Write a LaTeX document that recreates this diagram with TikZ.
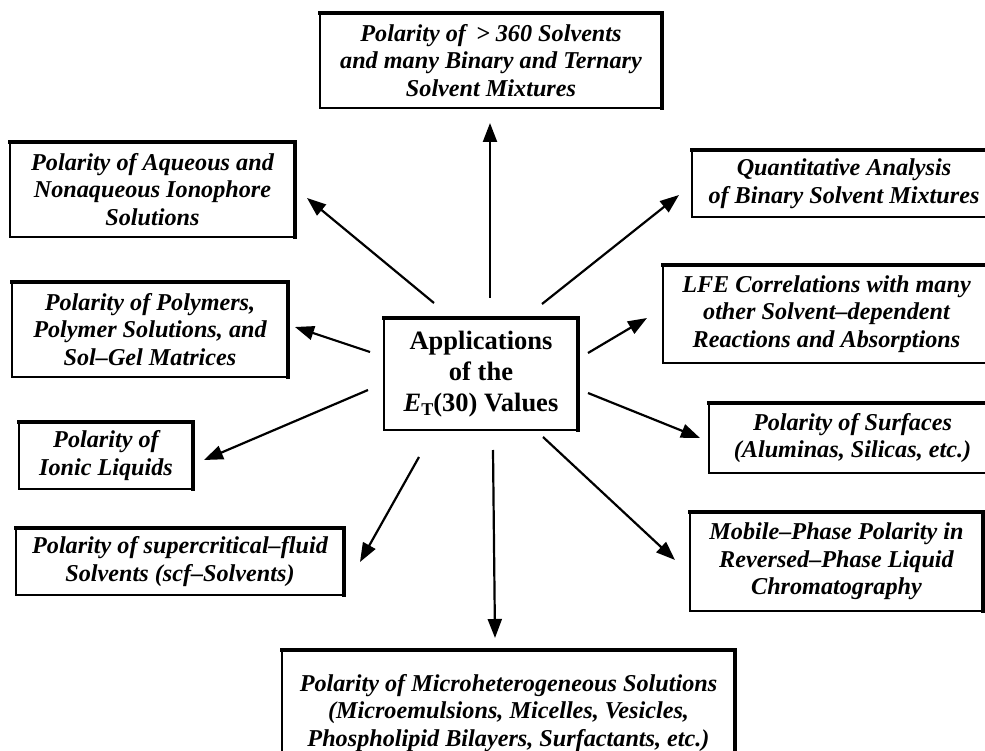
\documentclass[tikz,border=0pt]{standalone}
\usepackage{fontspec}
\setmainfont{Liberation Serif}
\usetikzlibrary{arrows.meta}
\newcommand\boxfont{\fontsize{24.2}{27.5}\selectfont\bfseries\itshape}
\newcommand\ctrfont{\fontsize{26.5}{31}\selectfont\bfseries}
\begin{document}
\begin{tikzpicture}[x=1pt,y=-1pt,
  box/.style={draw, line width=1.5pt, align=center, inner sep=0pt, outer sep=0pt, font=\boxfont},
  thickedge/.style={line width=3.3pt, line cap=rect},
  arr/.style={line width=2.2pt, -{Triangle[length=19pt,width=14pt]}}]
\clip (0,0) rectangle (985,751);
\fill[white] (0,0) rectangle (985,751);
% boxes
\node[box, minimum width=342, minimum height=95] (top) at (491,60.5)
  {Polarity of \,> 360 Solvents\\and many Binary and Ternary\\Solvent Mixtures};
\node[box, minimum width=285, minimum height=95] (aq) at (152.5,189.5)
  {Polarity of Aqueous and\\Nonaqueous Ionophore\\Solutions};
\node[box, minimum width=304, minimum height=67] (quant) at (844,183.5)
  {Quantitative Analysis\\of Binary Solvent Mixtures};
\node[box, minimum width=276, minimum height=95] (poly) at (150,329.5)
  {Polarity of Polymers,\\Polymer Solutions, and\\Sol–Gel Matrices};
\node[box, minimum width=327, minimum height=98] (lfe) at (826.5,314)
  {LFE Correlations with many\\other Solvent–dependent\\Reactions and Absorptions};
\node[box, minimum width=174, minimum height=67] (ionic) at (106,455.5)
  {Polarity of\\Ionic Liquids};
\node[box, minimum width=287, minimum height=70] (surf) at (852.5,438)
  {Polarity of Surfaces\\(Aluminas, Silicas, etc.)};
\node[box, minimum width=328, minimum height=67] (scf) at (180,561.5)
  {Polarity of supercritical–fluid\\Solvents (scf–Solvents)};
\node[box, minimum width=293, minimum height=99] (mob) at (836.5,561.5)
  {Mobile–Phase Polarity in\\Reversed–Phase Liquid\\Chromatography};
\node[box, minimum width=453, minimum height=126] (micro) at (508.5,713)
  {Polarity of Microheterogeneous Solutions\\(Microemulsions, Micelles, Vesicles,\\Phospholipid Bilayers, Surfactants, etc.)};
\node[box, line width=2.4pt, font=\ctrfont, minimum width=194, minimum height=112] (ctr) at (481,374)
  {Applications\\of the\\\textit{E}\raisebox{-0.3ex}{\fontsize{18}{18}\selectfont T}(30) Values};
\foreach \n in {top,aq,quant,poly,lfe,ionic,surf,scf,mob,micro}
  \draw[thickedge] (\n.north west) -- (\n.north east) -- (\n.south east);
\draw[line width=4.5pt, line cap=rect] (ctr.north west) -- (ctr.north east) -- (ctr.south east);
% arrow end points
\coordinate (s1) at (490,298);  \coordinate (t1) at (490,123);
\coordinate (s2) at (434,303);  \coordinate (t2) at (307,198);
\coordinate (s3) at (542,304);  \coordinate (t3) at (679,195);
\coordinate (s4) at (370,352);  \coordinate (t4) at (295,327);
\coordinate (s5) at (368,390);  \coordinate (t5) at (204,460);
\coordinate (s6) at (419,457);  \coordinate (t6) at (360,562);
\coordinate (s7) at (493,450);  \coordinate (t7) at (495,638);
\coordinate (s8) at (543,437);  \coordinate (t8) at (675,560);
\coordinate (s9) at (588,393);  \coordinate (t9) at (700,438);
\coordinate (s10) at (588,353); \coordinate (t10) at (647,318);
\foreach \i in {1,...,10} \draw[arr] (s\i) -- (t\i);
\end{tikzpicture}
\end{document}
